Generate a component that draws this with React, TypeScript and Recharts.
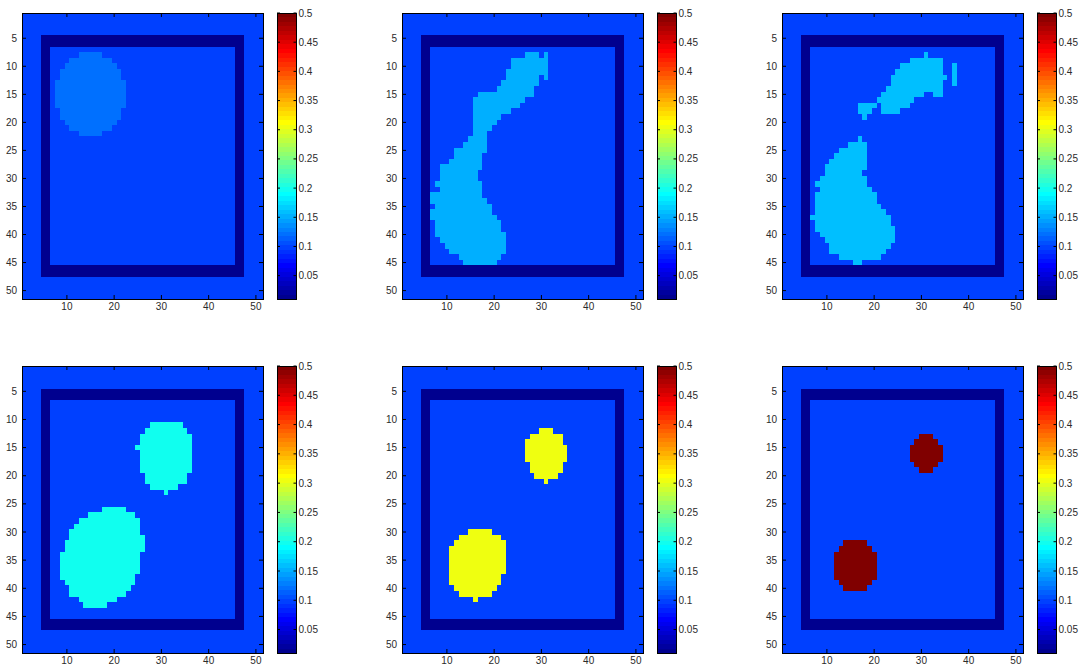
import { ComposedChart, XAxis, YAxis, ReferenceArea } from 'recharts';

// colour limits of the shared colorbar
const CMIN = 0.01;
const CMAX = 0.5;
const BG_VALUE = 0.1;
const FRAME_VALUE = 0.01;

const X_TICKS = [10, 20, 30, 40, 50];
const Y_TICKS = [5, 10, 15, 20, 25, 30, 35, 40, 45, 50];
const CB_TICKS = [0.05, 0.1, 0.15, 0.2, 0.25, 0.3, 0.35, 0.4, 0.45, 0.5];

// blob cells per panel: [row, firstCol, lastCol]
const RUNS_1 = [
  [8, 13, 17], [9, 11, 19], [10, 10, 20], [11, 9, 21], [12, 9, 21], [13, 8, 22], [14, 8, 22], [15, 8, 22],
  [16, 8, 22], [17, 8, 22], [18, 9, 21], [19, 9, 21], [20, 10, 20], [21, 11, 19], [22, 13, 17],
];
const RUNS_2 = [
  [8, 27, 29], [8, 31, 31], [9, 24, 31], [10, 24, 31], [11, 23, 31], [12, 23, 29], [12, 31, 31], [13, 22, 29],
  [14, 21, 28], [15, 17, 28], [16, 16, 26], [17, 16, 25], [18, 16, 23], [19, 16, 21], [20, 16, 20], [21, 16, 19],
  [22, 16, 18], [23, 15, 18], [24, 14, 18], [25, 12, 18], [26, 12, 17], [27, 11, 17], [28, 9, 17], [29, 9, 16],
  [30, 9, 16], [31, 8, 17], [32, 9, 17], [33, 7, 17], [34, 7, 18], [35, 8, 19], [36, 7, 19], [37, 7, 20],
  [38, 8, 21], [39, 8, 21], [40, 8, 22], [41, 9, 22], [42, 10, 22], [43, 11, 22], [44, 13, 21], [45, 14, 20],
];
const RUNS_3 = [
  [8, 31, 31], [9, 28, 34], [10, 26, 34], [10, 37, 37], [11, 25, 34], [11, 37, 37], [12, 24, 35], [12, 37, 37],
  [13, 24, 34], [13, 37, 37], [14, 23, 34], [15, 22, 30], [15, 33, 34], [16, 21, 28], [17, 17, 20], [17, 22, 27],
  [18, 17, 19], [18, 22, 25], [19, 18, 18], [23, 17, 17], [24, 15, 18], [25, 13, 18], [26, 12, 18], [27, 11, 18],
  [28, 10, 18], [29, 10, 17], [30, 9, 18], [31, 8, 18], [32, 9, 19], [33, 8, 20], [34, 8, 20], [35, 8, 21],
  [36, 8, 22], [37, 7, 23], [38, 8, 23], [39, 8, 24], [40, 9, 24], [41, 10, 24], [42, 11, 23], [43, 11, 22],
  [44, 13, 21], [45, 16, 17],
];
const RUNS_4 = [
  [11, 28, 34], [12, 27, 35], [13, 26, 36], [14, 26, 36], [15, 25, 36], [16, 26, 36], [17, 26, 36], [18, 26, 36],
  [19, 26, 36], [20, 27, 35], [21, 27, 35], [22, 28, 33], [23, 31, 31],
  [26, 18, 22], [27, 15, 24], [28, 13, 25], [29, 12, 25], [30, 11, 25], [31, 11, 26], [32, 10, 26], [33, 10, 26],
  [34, 9, 25], [35, 9, 25], [36, 9, 25], [37, 9, 25], [38, 9, 24], [39, 10, 24], [40, 11, 23], [41, 11, 22],
  [42, 13, 20], [43, 14, 18],
];
const RUNS_5 = [
  [12, 30, 32], [13, 28, 34], [14, 27, 34], [15, 27, 35], [16, 27, 35], [17, 27, 35], [18, 28, 34], [19, 28, 34],
  [20, 29, 33], [21, 31, 31],
  [30, 15, 19], [31, 13, 21], [32, 12, 22], [33, 11, 22], [34, 11, 22], [35, 11, 22], [36, 11, 22], [37, 11, 22],
  [38, 11, 21], [39, 11, 21], [40, 12, 20], [41, 13, 19], [42, 16, 16],
];
const RUNS_6 = [
  [13, 30, 32], [14, 29, 33], [15, 28, 34], [16, 28, 34], [17, 28, 34], [18, 29, 33], [19, 30, 32],
  [32, 14, 18], [33, 13, 19], [34, 12, 20], [35, 12, 20], [36, 12, 20], [37, 12, 20], [38, 12, 20], [39, 13, 19],
  [40, 14, 18],
];
const BLOB_RUNS = [RUNS_1, RUNS_2, RUNS_3, RUNS_4, RUNS_5, RUNS_6];
const BLOB_VALUES = [0.12, 0.15, 0.16, 0.2, 0.305, 0.5];

// layout
const COL_LEFT = [22.4, 402.2, 782];
const ROW_TOP = [12.5, 366];
const ROW_H = [286, 287];
const PLOT_W = 241;
const AXIS_W = 30;
const AXIS_H = 20;
const CB_OFFSET = 255;
const CB_W = 19.5;
const CB_LABEL_W = 40;
const CB_PAD = 8;
const FONT = '"Liberation Sans", Arial, Helvetica, sans-serif';
const TEXT = '#2b2b2b';

// MATLAB jet(64)
const jetU = (j: number) => (j < 1 || j > 47 ? 0 : j <= 16 ? j / 16 : j <= 31 ? 1 : (48 - j) / 16);
const hex = (v: number) => Math.round(v * 255).toString(16).padStart(2, '0');
const jetColor = (k: number) => '#' + hex(jetU(k - 24)) + hex(jetU(k - 8)) + hex(jetU(k + 8));
const colorOf = (v: number) => {
  const idx = Math.min(63, Math.max(0, Math.floor(((v - CMIN) / (CMAX - CMIN)) * 64)));
  return jetColor(idx + 1);
};
const CB_BANDS = Array.from({ length: 64 }, (_, i) => i + 1);

const XTick = ({ x, y, payload, plotH }: any) => (
  <g>
    <line x1={x} x2={x} y1={y} y2={y - 4} stroke="#000" />
    <line x1={x} x2={x} y1={y - plotH} y2={y - plotH + 4} stroke="#000" />
    <text x={x} y={y + 11} textAnchor="middle" fontSize={10} fontFamily={FONT} fill={TEXT}>{payload.value}</text>
  </g>
);

const YTick = ({ x, y, payload }: any) => (
  <g>
    <line x1={x} x2={x + 4} y1={y} y2={y} stroke="#000" />
    <line x1={x + PLOT_W - 4} x2={x + PLOT_W} y1={y} y2={y} stroke="#000" />
    <text x={x - 5} y={y + 3.5} textAnchor="end" fontSize={10} fontFamily={FONT} fill={TEXT}>{payload.value}</text>
  </g>
);

// x is the right edge of the colour strip
const CbTick = ({ x, y, payload }: any) => (
  <g>
    <line x1={x - 3} x2={x} y1={y} y2={y} stroke="#000" />
    <line x1={x - CB_W} x2={x - CB_W + 3} y1={y} y2={y} stroke="#000" />
    <text x={x + 2} y={y + 3.5} textAnchor="start" fontSize={10} fontFamily={FONT} fill={TEXT}>{payload.value}</text>
  </g>
);

const cell = (key: string, x1: number, x2: number, y1: number, y2: number, fill: string) => (
  <ReferenceArea key={key} x1={x1} x2={x2} y1={y1} y2={y2} fill={fill} fillOpacity={1} stroke="none" ifOverflow="visible" />
);

function Heatmap({ left, top, plotH, runs, value }: any) {
  const blob = colorOf(value);
  return (
    <div style={{ position: 'absolute', left: left - AXIS_W, top }}>
      <ComposedChart width={AXIS_W + PLOT_W} height={plotH + AXIS_H} margin={{ top: 0, right: 0, bottom: 0, left: 0 }}>
        <XAxis type="number" dataKey="x" domain={[0.5, 51.5]} allowDataOverflow ticks={X_TICKS} interval={0}
          axisLine={false} tickLine={false} tickSize={0} tickMargin={0} height={AXIS_H}
          tick={(p: any) => <XTick {...p} plotH={plotH} />} />
        <YAxis type="number" dataKey="y" domain={[0.5, 51.5]} allowDataOverflow reversed ticks={Y_TICKS} interval={0}
          axisLine={false} tickLine={false} tickSize={0} tickMargin={0} width={AXIS_W}
          tick={(p: any) => <YTick {...p} />} />
        {cell('bg', 0.5, 51.5, 0.5, 51.5, colorOf(BG_VALUE))}
        {cell('frame', 4.5, 47.5, 4.5, 47.5, colorOf(FRAME_VALUE))}
        {cell('inner', 6.5, 45.5, 6.5, 45.5, colorOf(BG_VALUE))}
        {runs.map(([r, c0, c1]: number[], i: number) => cell('r' + i, c0 - 0.5, c1 + 0.5, r - 0.5, r + 0.5, blob))}
        <ReferenceArea x1={0.5} x2={51.5} y1={0.5} y2={51.5} fill="none" stroke="#000" strokeWidth={1} ifOverflow="visible" />
      </ComposedChart>
    </div>
  );
}

function Colorbar({ left, top, plotH }: any) {
  const step = (CMAX - CMIN) / 64;
  return (
    <div style={{ position: 'absolute', left, top: top - CB_PAD }}>
      <ComposedChart width={CB_W + CB_LABEL_W} height={plotH + 2 * CB_PAD}
        margin={{ top: CB_PAD, right: 0, bottom: CB_PAD, left: 0 }}>
        <XAxis type="number" dataKey="x" domain={[0, 1]} allowDataOverflow height={0} tick={false} axisLine={false} tickLine={false} />
        <YAxis type="number" dataKey="v" orientation="right" domain={[CMIN, CMAX]} allowDataOverflow ticks={CB_TICKS} interval={0}
          axisLine={false} tickLine={false} tickSize={0} tickMargin={0} width={CB_LABEL_W}
          tick={(p: any) => <CbTick {...p} />} />
        {CB_BANDS.map((k) => cell('b' + k, 0, 1, CMIN + (k - 1) * step, CMIN + k * step, jetColor(k)))}
        <ReferenceArea x1={0} x2={1} y1={CMIN} y2={CMAX} fill="none" stroke="#000" strokeWidth={1} ifOverflow="visible" />
      </ComposedChart>
    </div>
  );
}

export default function App() {
  return (
    <div style={{ position: 'absolute', left: 0, top: 0, width: 1082, height: 666, background: '#fff' }}>
      <style>{'.recharts-reference-area-rect{shape-rendering:crispEdges} svg.recharts-surface{overflow:visible}'}</style>
      {BLOB_RUNS.map((runs, i) => {
        const row = Math.floor(i / 3);
        const col = i % 3;
        return (
          <div key={i}>
            <Heatmap left={COL_LEFT[col]} top={ROW_TOP[row]} plotH={ROW_H[row]} runs={runs} value={BLOB_VALUES[i]} />
            <Colorbar left={COL_LEFT[col] + CB_OFFSET} top={ROW_TOP[row]} plotH={ROW_H[row]} />
          </div>
        );
      })}
    </div>
  );
}
